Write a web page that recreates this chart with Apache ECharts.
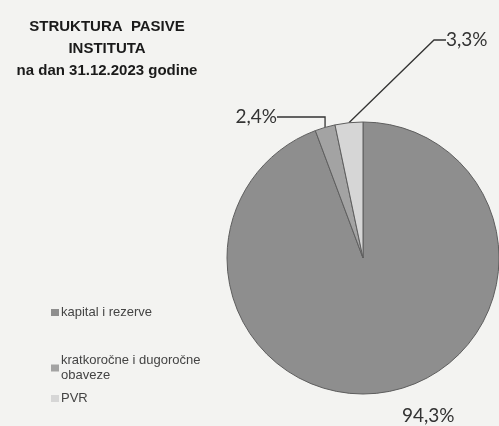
<!DOCTYPE html>
<html>
<head>
<meta charset="utf-8">
<script src="https://cdn.jsdelivr.net/npm/echarts@6/dist/echarts.min.js"></script>
<style>
  html, body { margin: 0; padding: 0; background: #f3f3f1; }
  #chart { width: 499px; height: 426px; }
</style>
</head>
<body>
<div id="chart"></div>
<script>
// struktura pasive, u %
const categories = ['kapital i rezerve', 'kratkoročne i dugoročne obaveze', 'PVR'];
const values = [94.3, 2.4, 3.3];
const colors = ['#8e8e8e', '#a3a3a3', '#d6d6d6'];

// gdje stoje postotci (x, y, poravnanje)
const labelPos = [
  { x: 402, y: 416, align: 'left' },
  { x: 277, y: 117, align: 'right' },
  { x: 446, y: 40, align: 'left' }
];

const chart = echarts.init(document.getElementById('chart'));

const fmt = v => v.toFixed(1).replace('.', ',') + '%';

const legendBase = {
  orient: 'vertical',
  left: 46,
  itemWidth: 8,
  itemHeight: 7,
  icon: 'rect',
  itemStyle: { borderWidth: 0 },
  textStyle: {
    fontFamily: 'Liberation Sans',
    fontSize: 13,
    color: '#444',
    lineHeight: 15,
    padding: [0, 0, 0, -3]
  }
};

chart.setOption({
  backgroundColor: '#f3f3f1',
  title: {
    text: 'STRUKTURA  PASIVE\nINSTITUTA\nna dan 31.12.2023 godine',
    left: 102,
    top: 11,
    textAlign: 'center',
    textStyle: {
      fontFamily: 'Liberation Sans',
      fontWeight: 'bold',
      fontSize: 15,
      lineHeight: 22,
      color: '#1a1a1a'
    }
  },
  legend: [
    Object.assign({}, legendBase, { top: 300, data: [categories[0]] }),
    Object.assign({}, legendBase, {
      top: 348,
      data: [categories[1]],
      formatter: () => 'kratkoročne i dugoročne\nobaveze'
    }),
    Object.assign({}, legendBase, { top: 386, data: [categories[2]] })
  ],
  series: [{
    type: 'pie',
    center: [363, 258],
    radius: [0, 136],
    startAngle: 90,
    clockwise: true,
    silent: true,
    itemStyle: {
      borderColor: '#5e5e5e',
      borderWidth: 1
    },
    label: {
      show: true,
      position: 'outside',
      fontFamily: 'Lato',
      fontSize: 19,
      color: '#333',
      formatter: p => fmt(p.value)
    },
    labelLine: {
      show: true,
      length: 4,
      length2: 12,
      lineStyle: { color: '#333', width: 1.3 }
    },
    labelLayout: p => ({
      x: labelPos[p.dataIndex].x,
      y: labelPos[p.dataIndex].y,
      align: labelPos[p.dataIndex].align,
      verticalAlign: 'middle'
    }),
    data: categories.map((name, i) => ({
      name: name,
      value: values[i],
      itemStyle: { color: colors[i] },
      labelLine: i === 0 ? { show: false } : (i === 1 ? { length2: 52 } : { length2: 12 })
    }))
  }]
});
</script>
</body>
</html>
